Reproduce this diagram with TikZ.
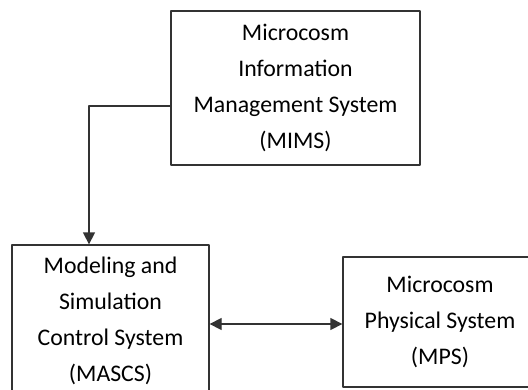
\documentclass[tikz,border=0pt]{standalone}
\usepackage{fontspec}
\setmainfont{Carlito}
\usetikzlibrary{arrows.meta}
\tikzset{
  sysbox/.style={draw=black!80, line width=1.3pt, align=center, inner sep=0pt},
}
\begin{document}
\begin{tikzpicture}[x=1pt, y=-1pt, font=\fontsize{23.8}{36}\selectfont, line join=round, >={Triangle[length=12pt,width=12pt]}]
			%%%%%%%%%%%%%%%%%%%%%%%%%%%%%%%%%
			\useasboundingbox (0,0) rectangle (528,389);
			\clip (0,0) rectangle (528,389);
			%%%%%%%%%%%%%%%%%%%%%%%%%%%%%%%%%
			\node[sysbox, minimum width=249pt, minimum height=154pt] (mims) at (295.5,88) {Microcosm\\Information\\Management System\\(MIMS)};
			\node[sysbox, minimum width=197pt, minimum height=152pt] (mascs) at (110.5,321) {Modeling and\\Simulation\\Control System\\(MASCS)};
			\node[sysbox, minimum width=194pt, minimum height=130pt] (mps) at (440,322) {Microcosm\\Physical System\\(MPS)};
			%%%%%%%%%%%%%%%%%%%%%%%%%%%%%%%%%
			\coordinate (mimsout) at ([yshift=-18pt]mims.west);
			\coordinate (mascsin) at ([xshift=-21.5pt]mascs.north);
			\draw[black!80, line width=1.3pt, ->] (mimsout) -| (mascsin);
			\draw[black!80, line width=1.3pt, <->] ([yshift=-3pt]mascs.east) -- ([yshift=-3pt]mascs.east -| mps.west);
			%%%%%%%%%%%%%%%%%%%%%%%%%%%%%%%%%
		\end{tikzpicture}
\end{document}
